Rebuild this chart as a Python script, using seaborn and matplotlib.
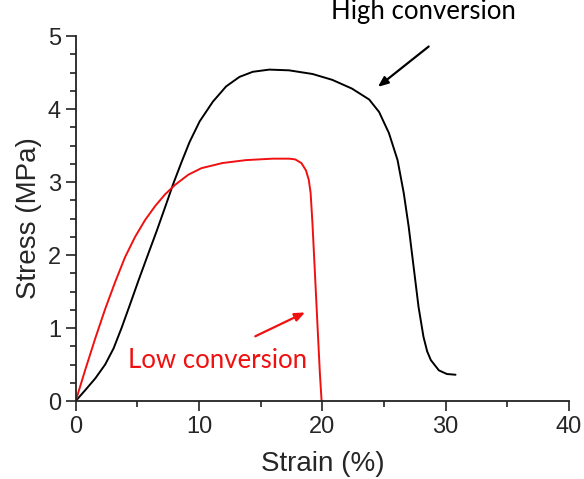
import numpy as np
import pandas as pd
import matplotlib
matplotlib.use('Agg')
import matplotlib.pyplot as plt
import seaborn as sns
from matplotlib.ticker import MultipleLocator

# high conversion sample (black)
high_strain = [0, 0.78, 1.59, 2.39, 3.07, 3.74, 4.42, 5.09, 5.76, 6.57, 7.24, 7.92, 8.6, 9.24,
               10.05, 11.12, 12.2, 13.28, 14.36, 15.7, 17.3, 19.2, 20.8, 22.4, 23.8, 24.6,
               25.4, 26.1, 26.6, 27.0, 27.4, 27.8, 28.2, 28.5, 28.8, 29.45, 30.1, 30.8]
high_stress = [0, 0.15, 0.31, 0.50, 0.72, 1.01, 1.33, 1.65, 1.96, 2.33, 2.65, 2.98, 3.28, 3.55,
               3.83, 4.10, 4.31, 4.44, 4.51, 4.54, 4.53, 4.48, 4.40, 4.28, 4.13, 3.96,
               3.67, 3.30, 2.85, 2.39, 1.84, 1.29, 0.88, 0.68, 0.56, 0.42, 0.37, 0.36]

# low conversion sample (red)
low_strain = [0, 0.78, 1.59, 2.39, 3.2, 4.0, 4.82, 5.63, 6.44, 7.24, 8.05, 9.13, 10.2, 11.9,
              13.8, 15.97, 17.3, 17.8, 18.3, 18.67, 18.9, 19.05, 19.2, 19.4, 19.6, 19.8, 19.94]
low_stress = [0, 0.43, 0.86, 1.26, 1.63, 1.97, 2.25, 2.48, 2.67, 2.83, 2.96, 3.10, 3.19, 3.26,
              3.30, 3.32, 3.32, 3.31, 3.26, 3.16, 3.03, 2.85, 2.43, 1.75, 1.06, 0.38, 0]

sns.set_style('ticks')
plt.rcParams['font.family'] = ['Liberation Sans', 'DejaVu Sans']

fig = plt.figure(figsize=(5.84, 4.79), dpi=100)
ax = fig.add_axes([0.1296, 0.1628, 0.8447, 0.762])

high = pd.DataFrame({'strain': high_strain, 'stress': high_stress})
low = pd.DataFrame({'strain': low_strain, 'stress': low_stress})
sns.lineplot(data=high, x='strain', y='stress', color='black', lw=1.4, sort=False,
             estimator=None, ax=ax, solid_joinstyle='round')
sns.lineplot(data=low, x='strain', y='stress', color='#f01010', lw=1.4, sort=False,
             estimator=None, ax=ax, solid_joinstyle='round')

ax.set_xlim(0, 40)
ax.set_ylim(0, 5)
ax.xaxis.set_major_locator(MultipleLocator(10))
ax.xaxis.set_minor_locator(MultipleLocator(5))
ax.yaxis.set_major_locator(MultipleLocator(1))
ax.yaxis.set_minor_locator(MultipleLocator(0.25))
ax.tick_params(which='major', length=7, width=1.2, labelsize=17, color='#222222')
ax.tick_params(which='minor', length=4, width=1.2, color='#222222')
ax.set_xlabel('Strain (%)', fontsize=20, labelpad=10)
ax.set_ylabel('Stress (MPa)', fontsize=20, labelpad=4)
for s in ['left', 'bottom']:
    ax.spines[s].set_linewidth(1.3)
    ax.spines[s].set_color('#222222')
sns.despine(ax=ax)

ax.annotate('', xy=(24.33, 4.28), xytext=(28.8, 4.88),
            arrowprops=dict(arrowstyle='-|>,head_length=0.6,head_width=0.25', color='black', lw=1.6),
            annotation_clip=False)
ax.text(28.2, 5.33, 'High conversion', fontsize=18.5, family=['Lato', 'DejaVu Sans'],
        ha='center', va='center', color='black', clip_on=False)

ax.annotate('', xy=(18.8, 1.23), xytext=(14.36, 0.87),
            arrowprops=dict(arrowstyle='-|>,head_length=0.6,head_width=0.25', color='#f01010', lw=1.6))
ax.text(11.5, 0.56, 'Low conversion', fontsize=18.5, family=['Lato', 'DejaVu Sans'],
        ha='center', va='center', color='#f01010')

fig.savefig('out.png', dpi=100)
